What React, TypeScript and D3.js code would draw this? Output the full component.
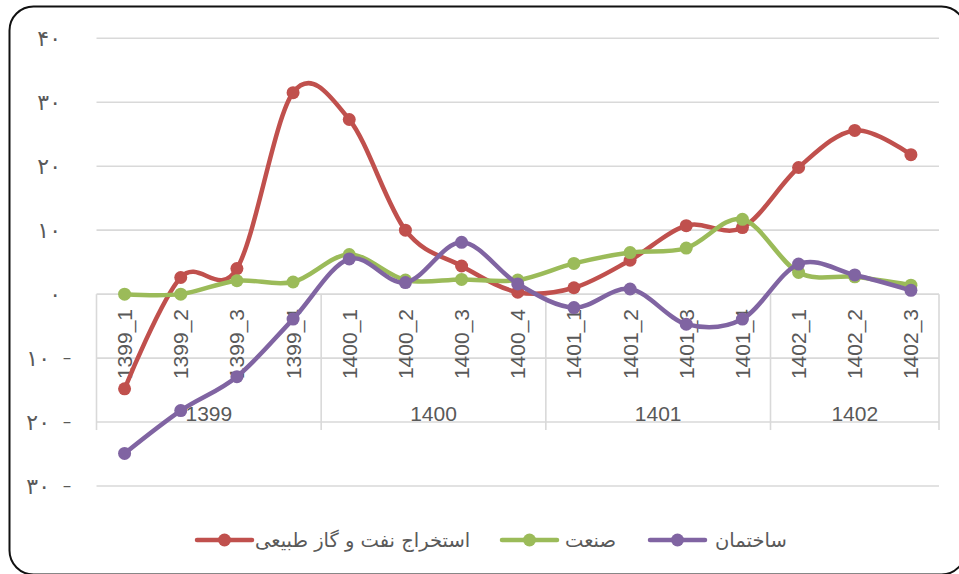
import React from "react";
import * as d3 from "d3";

const categories = [
  "1399_1","1399_2","1399_3","1399_4",
  "1400_1","1400_2","1400_3","1400_4",
  "1401_1","1401_2","1401_3","1401_4",
  "1402_1","1402_2","1402_3",
];
const groups = ["1399", "1400", "1401", "1402"];
const groupSizes = [4, 4, 4, 3];

const oilGas = [-14.8, 2.6, 4.0, 31.5, 27.3, 10.0, 4.4, 0.3, 1.0, 5.3, 10.7, 10.4, 19.8, 25.6, 21.8];
const industry = [0.0, 0.0, 2.1, 1.9, 6.2, 2.2, 2.3, 2.2, 4.8, 6.5, 7.2, 11.7, 3.4, 2.7, 1.4];
const construction = [-24.9, -18.2, -12.9, -3.9, 5.5, 1.8, 8.1, 1.6, -2.1, 0.8, -4.7, -3.9, 4.7, 3.0, 0.6];

const yTicks = [-30, -20, -10, 0, 10, 20, 30, 40];

const seriesNames = ["استخراج نفت و گاز طبیعی", "صنعت", "ساختمان"];
const seriesColors = ["#C0504D", "#9BBB59", "#8064A2"];

const toFa = (n: number) =>
  String(Math.abs(n)).replace(/\d/g, (d) => "۰۱۲۳۴۵۶۷۸۹"[+d]);

const W = 959;
const H = 574;

export default function App() {
  const x = d3.scaleBand<number>().domain(d3.range(categories.length)).range([96.5, 939]).padding(0);
  const bw = x.bandwidth();
  const cx = (i: number) => (x(i) as number) + bw / 2;
  const y = d3.scaleLinear().domain([-30, 40]).range([486, 38.3]);

  const line = d3
    .line<number>()
    .x((_, i) => cx(i))
    .y((v) => y(v))
    .curve(d3.curveCardinal.tension(0));

  const series = [oilGas, industry, construction];
  const gridColor = "#D9D9D9";
  const textColor = "#595959";
  const catTop = y(0);
  const catBottom = y(-20) + 8;

  const groupStarts = groupSizes.map((_, gi) => d3.sum(groupSizes.slice(0, gi)));
  const edge = (slot: number) => (slot < categories.length ? (x(slot) as number) : 939);

  const legendY = 540;
  const legendItems = [
    { sx: 197, tx: 255 },
    { sx: 502, tx: 565 },
    { sx: 650, tx: 715 },
  ];

  return (
    <svg width={W} height={H} style={{ position: "absolute", left: 0, top: 0, background: "#fff" }}>
      <rect x={9.5} y={6.5} width={956} height={568} rx={24} ry={24} fill="#fff" stroke="#111" strokeWidth={2} />

      {yTicks.map((t) => (
        <line key={t} x1={96.5} x2={939} y1={y(t)} y2={y(t)} stroke={gridColor} strokeWidth={1.6} />
      ))}

      {[...groupStarts, categories.length].map((s, k) => (
        <line key={k} x1={edge(s)} x2={edge(s)} y1={catTop} y2={catBottom} stroke={gridColor} strokeWidth={1.6} />
      ))}

      {yTicks.map((t) =>
        t < 0 ? (
          <g key={t} fontFamily="DejaVu Sans" fontSize={22} fill={textColor}>
            <text x={50} y={y(t)} dy="0.35em" textAnchor="end">{toFa(t)}</text>
            <text x={67} y={y(t)} dy="0.3em" textAnchor="middle" fontSize={17}>–</text>
          </g>
        ) : (
          <text key={t} x={61} y={y(t)} dy="0.35em" textAnchor="end" fontFamily="DejaVu Sans" fontSize={22} fill={textColor}>
            {toFa(t)}
          </text>
        )
      )}

      {categories.map((c, i) => (
        <text
          key={c}
          transform={`translate(${cx(i)},${309}) rotate(-90)`}
          textAnchor="end"
          dy="0.36em"
          fontFamily="Liberation Sans"
          fontSize={21}
          fill={textColor}
        >
          {c}
        </text>
      ))}
      {groups.map((g, gi) => {
        const x0 = edge(groupStarts[gi]);
        const x1 = edge(groupStarts[gi] + groupSizes[gi]);
        return (
          <text key={g} x={(x0 + x1) / 2} y={421} textAnchor="middle" fontFamily="Liberation Sans" fontSize={21} fill={textColor}>
            {g}
          </text>
        );
      })}

      {series.map((s, si) => (
        <g key={si}>
          <path d={line(s) || ""} fill="none" stroke={seriesColors[si]} strokeWidth={4.5} strokeLinejoin="round" strokeLinecap="round" />
          {s.map((v, i) => (
            <circle key={i} cx={cx(i)} cy={y(v)} r={6.5} fill={seriesColors[si]} />
          ))}
        </g>
      ))}

      {legendItems.map((it, i) => (
        <g key={i}>
          <line x1={it.sx} x2={it.sx + 55} y1={legendY} y2={legendY} stroke={seriesColors[i]} strokeWidth={4.5} strokeLinecap="round" />
          <circle cx={it.sx + 27.5} cy={legendY} r={6.5} fill={seriesColors[i]} />
          <text x={it.tx} y={legendY} dy="0.35em" textAnchor="start" fontFamily="DejaVu Sans" fontSize={19.5} fill={textColor}>
            {seriesNames[i]}
          </text>
        </g>
      ))}
    </svg>
  );
}
